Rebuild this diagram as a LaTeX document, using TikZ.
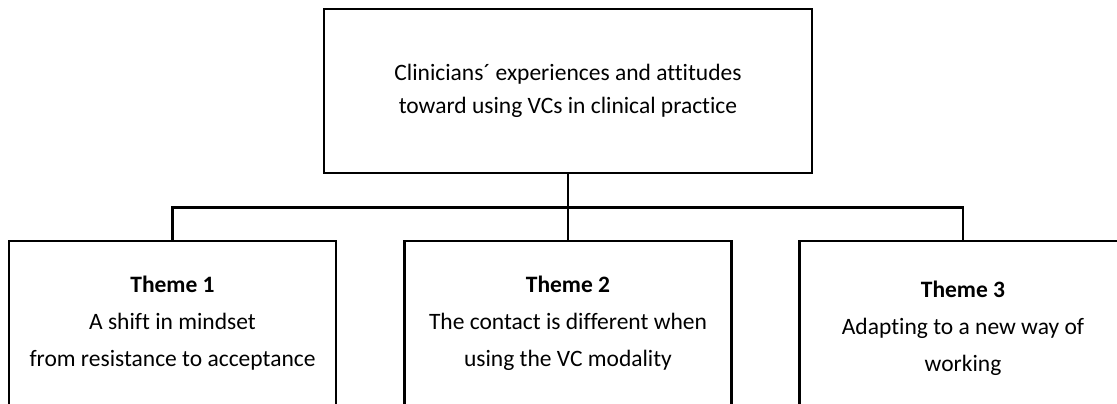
\documentclass[tikz,border=0pt]{standalone}
\usepackage{fontspec}
\setmainfont{Carlito}[Ligatures=NoCommon]
\begin{document}
\begin{tikzpicture}[x=1pt,y=1pt,
  boxline/.style={draw=black,line width=2.2pt},
  rootbox/.style={boxline,rectangle,minimum width=488pt,minimum height=164pt,inner sep=0pt},
  themebox/.style={boxline,rectangle,minimum width=327pt,minimum height=164pt,inner sep=0pt},
  roottext/.style={align=center,inner sep=0pt,font=\fontsize{23.5}{33}\selectfont},
  themetext/.style={align=center,inner sep=0pt,font=\fontsize{23.5}{37}\selectfont},
  link/.style={line width=2.2pt,line join=miter}]
\useasboundingbox (0,0) rectangle (1117,-404);
\clip (0,0) rectangle (1117,-404);

% overall topic
\node[rootbox] (root) at (568,-91) {};
\node[roottext] (roottxt) at (root.center)
  {Clinicians´ experiences and attitudes\\toward using VCs in clinical practice};

% the three themes
\node[themebox] (t1) at (172.5,-323) {};
\node[themebox] (t2) at (568,-323) {};
\node[themebox] (t3) at (963,-323) {};
\node[themetext] (t1txt) at (t1.center)
  {\textbf{Theme 1}\\A shift in mindset\\from resistance to acceptance};
\node[themetext] (t2txt) at (t2.center)
  {\textbf{Theme 2}\\The contact is different when\\using the VC modality};
\node[themetext,yshift=-5pt] (t3txt) at (t3.center)
  {\textbf{Theme 3}\\Adapting to a new way of\\working};

% tree connectors
\coordinate (bus) at (568,-207.5);
\draw[link] (root.south) -- (bus);
\draw[link] (t1.north) |- (bus) -| (t3.north);
\draw[link] (bus) -- (t2.north);
\end{tikzpicture}
\end{document}
